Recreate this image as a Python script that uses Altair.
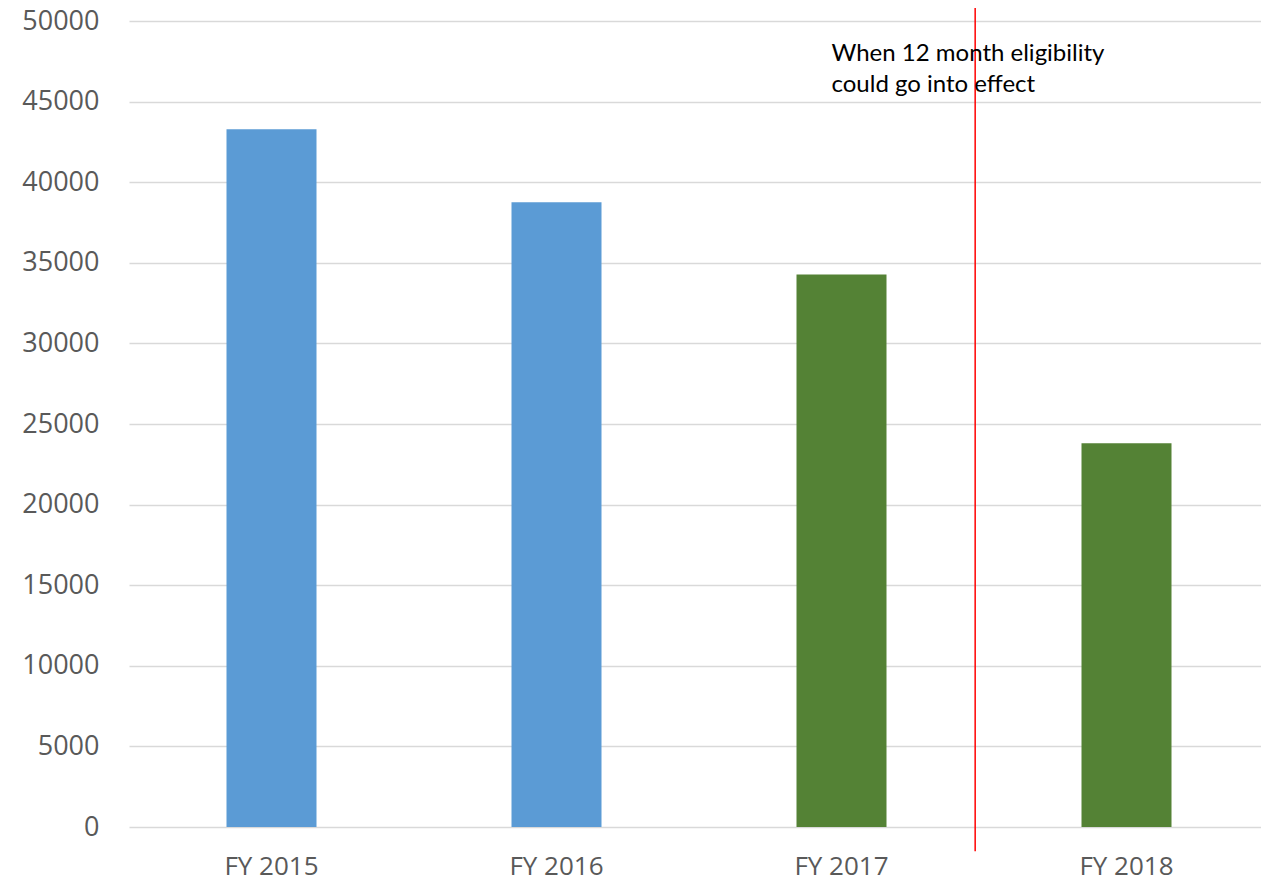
import altair as alt
import pandas as pd

# ---- data ----
categories = ["FY 2015", "FY 2016", "FY 2017", "FY 2018"]
values = [43280, 38750, 34270, 23800]
groups = ["before", "before", "after", "after"]

annotation_lines = ["When 12 month eligibility", "could go into effect"]
annotation_cat = "FY 2017"
annotation_value = 47500

marker_cat = "FY 2017"
marker_top = 51300
marker_bottom = -1500

df = pd.DataFrame({"cat": categories, "value": values, "group": groups})

x_scale = alt.Scale(domain=categories, range=[0, 1140], paddingInner=0, paddingOuter=0)
y_scale = alt.Scale(domain=[0, 50000], nice=False, zero=True)

bars = alt.Chart(df).mark_bar(size=90).encode(
    x=alt.X("cat:N", scale=x_scale, sort=categories,
            axis=alt.Axis(title=None, labelAngle=0, ticks=False, domain=False,
                          labelPadding=26, labelFontSize=26, labelFont="Open Sans",
                          labelColor="#595959", grid=False)),
    y=alt.Y("value:Q", scale=y_scale,
            axis=alt.Axis(title=None, values=list(range(0, 50001, 5000)), ticks=False,
                          domain=False, labelPadding=30, labelFontSize=27,
                          labelFont="Open Sans", labelColor="#595959",
                          gridColor="#D9D9D9", gridWidth=1.5, format="d")),
    color=alt.Color("group:N", scale=alt.Scale(domain=["before", "after"],
                                               range=["#5B9BD5", "#548235"]), legend=None),
)

ann_df = pd.DataFrame({"cat": [annotation_cat], "value": [annotation_value]})
text = alt.Chart(ann_df).mark_text(
    align="left", baseline="alphabetic", font="Lato", fontSize=24,
    color="#000000", lineHeight=31, dx=-10,
).encode(
    x=alt.X("cat:N", scale=x_scale, sort=categories, bandPosition=0.5),
    y=alt.Y("value:Q", scale=y_scale),
    text=alt.value(annotation_lines),
)

rule_df = pd.DataFrame({"cat": [marker_cat], "top": [marker_top], "bottom": [marker_bottom]})
rule = alt.Chart(rule_df).mark_rule(color="#FF0000", strokeWidth=1.5).encode(
    x=alt.X("cat:N", scale=x_scale, sort=categories, bandPosition=0.969),
    y=alt.Y("top:Q", scale=y_scale),
    y2="bottom:Q",
)

chart = alt.layer(bars, rule, text).properties(
    width=1132, height=806,
    autosize=alt.AutoSizeParams(type="none"),
    padding={"left": 121, "top": 13, "right": 0, "bottom": 60},
).configure_view(stroke=None).configure_axis(labelFont="Open Sans")

chart.save("out.html", embed_options={"renderer": "svg", "actions": False})
